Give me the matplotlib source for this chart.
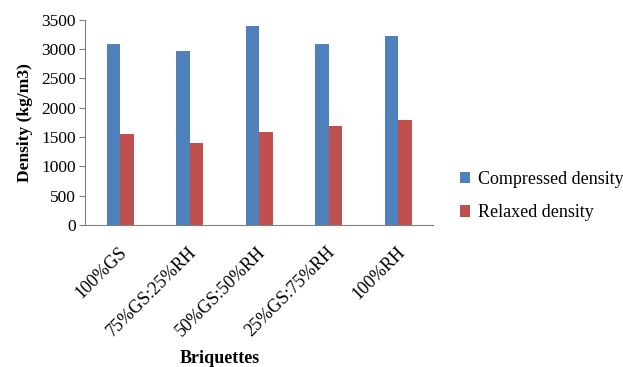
import matplotlib
matplotlib.use("Agg")
import matplotlib.pyplot as plt
import matplotlib.transforms as mtransforms
import numpy as np

plt.rcParams['font.family'] = ['Liberation Serif', 'DejaVu Serif']

categories = ["100%GS", "75%GS:25%RH", "50%GS:50%RH", "25%GS:75%RH", "100%RH"]
compressed = [3085, 2970, 3395, 3085, 3230]
relaxed = [1555, 1395, 1580, 1695, 1790]

fig = plt.figure(figsize=(6.23, 3.67), dpi=100)
ax = fig.add_axes([0.137, 0.387, 0.558, 0.559])

x = np.arange(len(categories))
w = 0.195
ax.bar(x - w / 2, compressed, width=w, color="#4F81BD", label="Compressed density")
ax.bar(x + w / 2, relaxed, width=w, color="#C0504D", label="Relaxed density")

ax.set_xlim(-0.5, len(categories) - 0.5)
ax.set_ylim(0, 3500)
ax.set_yticks(np.arange(0, 3501, 500))
ax.set_xticks(x)
ax.set_xticklabels([])

# rotated category labels, ending just right of each category centre
label_tf = mtransforms.blended_transform_factory(ax.transData, ax.transAxes) + \
    mtransforms.ScaledTranslation(4 / 100, -25 / 100, fig.dpi_scale_trans)
for xi, name in zip(x, categories):
    ax.text(xi, 0, name, transform=label_tf, rotation=45, ha="right", va="center",
            rotation_mode="anchor", fontsize=13)

ax.tick_params(axis="y", labelsize=12.5, length=4, color="#808080", direction="out", pad=3)
ax.tick_params(axis="x", length=0)

for s in ("top", "right"):
    ax.spines[s].set_visible(False)
for s in ("left", "bottom"):
    ax.spines[s].set_color("#808080")

ax.set_ylabel("Density (kg/m3)", fontsize=12.5, fontweight="bold", labelpad=6)
fig.text(0.353, 0.012, "Briquettes", fontsize=13, fontweight="bold", ha="center", va="baseline")

ax.legend(loc="center left", bbox_to_anchor=(1.03, 0.14), frameon=False, fontsize=13,
          handlelength=0.6, handleheight=0.6, handletextpad=0.4, labelspacing=0.9)

fig.savefig("out.png", dpi=100)
